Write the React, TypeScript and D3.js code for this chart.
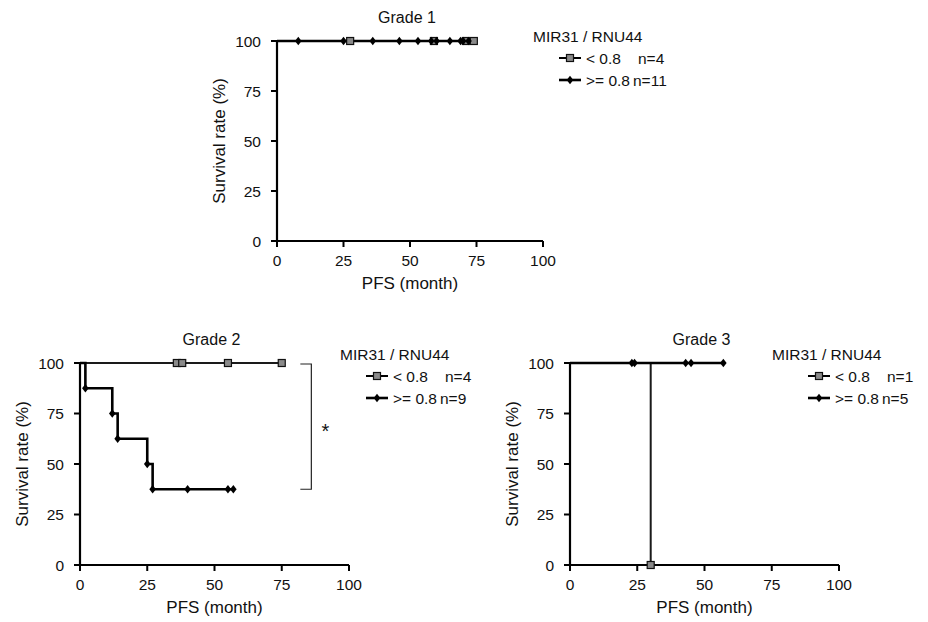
import React from "react";
import * as d3 from "d3";

// survival curves, [month, survival %] at each marked point
const grade1Low = [[27.5, 100], [59, 100], [71, 100], [74, 100]];
const grade1High = [[8, 100], [25, 100], [36, 100], [46, 100], [53, 100], [58, 100], [60, 100], [65, 100], [69, 100], [70, 100], [72, 100]];
const grade2Low = [[36, 100], [38, 100], [55, 100], [75, 100]];
const grade2High = [[2, 87.5], [12, 75], [14, 62.5], [25, 50], [27, 37.5], [40, 37.5], [55, 37.5], [57, 37.5]];
const grade3Low = [[30, 0]];
const grade3High = [[23, 100], [24, 100], [43, 100], [45, 100], [57, 100]];

const ticks = [0, 25, 50, 75, 100];
const legendTitle = "MIR31 / RNU44";
const lowLabel = "< 0.8";
const highLabel = ">= 0.8";

const font = "'Liberation Sans', Arial, Helvetica, sans-serif";

const diamond = "M0,-4.3L3.3,0L0,4.3L-3.3,0Z";

function Marker({ kind, x, y }) {
  if (kind === "low")
    return <rect x={x - 3.5} y={y - 3.5} width={7} height={7} fill="#8a8a8a" stroke="#111" strokeWidth={1.2} />;
  return <path d={diamond} transform={`translate(${x},${y})`} fill="#000" />;
}

function Panel({ title, left, top, w, h, low, high, nLow, nHigh, legend, bracket }) {
  const x = d3.scaleLinear().domain([0, 100]).range([left, left + w]);
  const y = d3.scaleLinear().domain([0, 100]).range([top + h, top]);
  const line = d3
    .line()
    .x((d) => x(d[0]))
    .y((d) => y(d[1]))
    .curve(d3.curveStepAfter);
  const ix = legend.x + (legend.dx || 0);

  return (
    <g fontFamily={font} fill="#111">
      <text x={x(50) - 3} y={top - 18} textAnchor="middle" fontSize={16}>
        {title}
      </text>

      {/* axes */}
      <line x1={x(0)} x2={x(0)} y1={y(0)} y2={y(100)} stroke="#000" strokeWidth={2.2} />
      <line x1={x(0) - 6} x2={x(100)} y1={y(0)} y2={y(0)} stroke="#000" strokeWidth={2.2} />
      {ticks.map((t) => (
        <g key={"y" + t}>
          <line x1={x(0) - 6} x2={x(0)} y1={y(t)} y2={y(t)} stroke="#000" strokeWidth={2} />
          <text x={x(0) - 16} y={y(t) + 5.5} textAnchor="end" fontSize={15.5}>
            {t}
          </text>
        </g>
      ))}
      {ticks.map((t) => (
        <g key={"x" + t}>
          <line x1={x(t)} x2={x(t)} y1={y(0)} y2={y(0) + 6} stroke="#000" strokeWidth={2} />
          <text x={x(t)} y={y(0) + 25} textAnchor="middle" fontSize={15.5}>
            {t}
          </text>
        </g>
      ))}
      <text x={x(50)} y={y(0) + 48} textAnchor="middle" fontSize={17}>
        PFS (month)
      </text>
      <text
        transform={`translate(${x(0) - 52},${y(50)}) rotate(-90)`}
        textAnchor="middle"
        fontSize={17}
      >
        Survival rate (%)
      </text>

      {/* curves */}
      <path d={line([[0, 100], ...low])} fill="none" stroke="#1a1a1a" strokeWidth={2} />
      <path d={line([[0, 100], ...high])} fill="none" stroke="#000" strokeWidth={2.6} />
      {low.map((d, i) => (
        <Marker key={"l" + i} kind="low" x={x(d[0])} y={y(d[1])} />
      ))}
      {high.map((d, i) => (
        <Marker key={"h" + i} kind="high" x={x(d[0])} y={y(d[1])} />
      ))}

      {bracket && (
        <g>
          <path
            d={`M${x(bracket[0]) - 11},${y(100) + 1}H${x(bracket[0])}V${y(bracket[1])}H${x(bracket[0]) - 11}`}
            fill="none"
            stroke="#222"
            strokeWidth={1.2}
          />
          <text x={x(bracket[0]) + 14} y={(y(100) + y(bracket[1])) / 2 + 12} textAnchor="middle" fontSize={20}>
            *
          </text>
        </g>
      )}

      {/* legend */}
      <text x={legend.x} y={legend.y} fontSize={15.5}>
        {legendTitle}
      </text>
      {[
        ["low", lowLabel, nLow, 105],
        ["high", highLabel, nHigh, 100],
      ].map(([kind, label, n, nx], i) => {
        const ly = legend.y + 16 + i * 22;
        return (
          <g key={kind}>
            <line
              x1={ix + 26}
              x2={ix + 48}
              y1={ly}
              y2={ly}
              stroke="#000"
              strokeWidth={kind === "low" ? 2 : 2.6}
            />
            <Marker kind={kind} x={ix + 37} y={ly} />
            <text x={ix + 53} y={ly + 5.5} fontSize={15.5}>
              {label}
            </text>
            <text x={ix + nx} y={ly + 5.5} fontSize={15.5}>
              {"n=" + n}
            </text>
          </g>
        );
      })}
    </g>
  );
}

export default function App() {
  return (
    <svg width={928} height={622} style={{ position: "absolute", left: 0, top: 0, background: "#fff" }}>
      <Panel
        title="Grade 1"
        left={277}
        top={41}
        w={266}
        h={200}
        low={grade1Low}
        high={grade1High}
        nLow={4}
        nHigh={11}
        legend={{ x: 533, y: 42 }}
      />
      <Panel
        title="Grade 2"
        left={80}
        top={363}
        w={269}
        h={202}
        low={grade2Low}
        high={grade2High}
        nLow={4}
        nHigh={9}
        legend={{ x: 340, y: 360 }}
        bracket={[86, 37.5]}
      />
      <Panel
        title="Grade 3"
        left={570}
        top={363}
        w={269}
        h={202}
        low={grade3Low}
        high={grade3High}
        nLow={1}
        nHigh={5}
        legend={{ x: 772, y: 360, dx: 10 }}
      />
    </svg>
  );
}
